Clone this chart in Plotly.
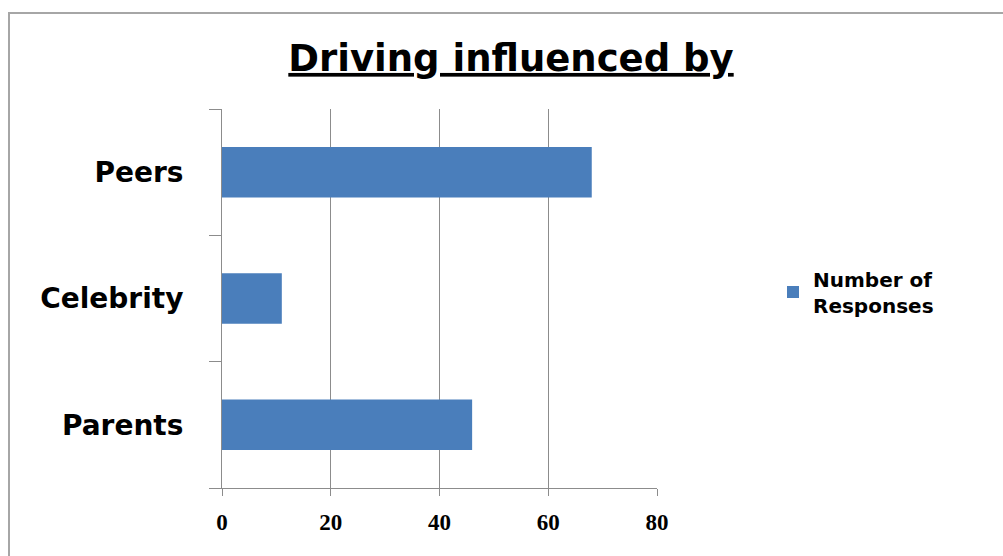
import plotly.graph_objects as go

categories = ["Parents", "Celebrity", "Peers"]
responses = [46, 11, 68]
x_ticks = [0, 20, 40, 60, 80]
series_name = "Number of<br>Responses"
title_text = "Driving influenced by"

W, H = 1003, 556
L, R, T, B = 222, 346, 109, 68
pw, ph = W - L - R, H - T - B

def px_x(p):
    return (p - L) / pw

def px_y(p):
    return (H - B - p) / ph

fig = go.Figure()
fig.add_trace(go.Bar(
    y=categories, x=responses, orientation="h",
    name=series_name,
    marker=dict(color="#4A7EBB", line=dict(width=0)),
    showlegend=True,
))

fig.update_layout(
    width=W, height=H,
    margin=dict(l=L, r=R, t=T, b=B),
    paper_bgcolor="white", plot_bgcolor="white",
    bargap=0.6,
    title=dict(
        text="<b><u>" + title_text + "</u></b>",
        font=dict(family="DejaVu Sans", size=37, color="black"),
        x=px_x(511), xref="paper", xanchor="center",
        y=1 - 58 / H, yref="container", yanchor="middle",
    ),
    legend=dict(
        x=px_x(773), y=px_y(292), xanchor="left", yanchor="middle",
        font=dict(family="DejaVu Sans", size=20, color="black", weight="bold"),
        itemwidth=30, tracegroupgap=0,
        bgcolor="rgba(0,0,0,0)",
    ),
    xaxis=dict(
        range=[0, 80], tickvals=x_ticks,
        showgrid=True, gridcolor="#8C8C8C", gridwidth=1,
        zeroline=False,
        showline=True, linecolor="#8C8C8C", linewidth=1,
        ticks="outside", ticklen=7, tickcolor="#8C8C8C",
        tickfont=dict(family="Liberation Serif", size=23, color="black", weight="bold"),
        ticklabelstandoff=6,
        fixedrange=True,
    ),
    yaxis=dict(
        type="category",
        showline=True, linecolor="#8C8C8C", linewidth=1,
        ticks="outside", ticklen=12, tickcolor="#8C8C8C",
        tickson="boundaries",
        showgrid=False, zeroline=False,
        tickfont=dict(family="DejaVu Sans", size=28, color="black", weight="bold"),
        ticklabelstandoff=32,
        fixedrange=True,
    ),
    shapes=[dict(
        type="rect", xref="paper", yref="paper",
        x0=px_x(9), x1=px_x(1012), y0=px_y(570), y1=px_y(13),
        line=dict(color="#A6A6A6", width=2), fillcolor="rgba(0,0,0,0)",
        layer="below",
    )],
)

fig.write_html("out.html")
